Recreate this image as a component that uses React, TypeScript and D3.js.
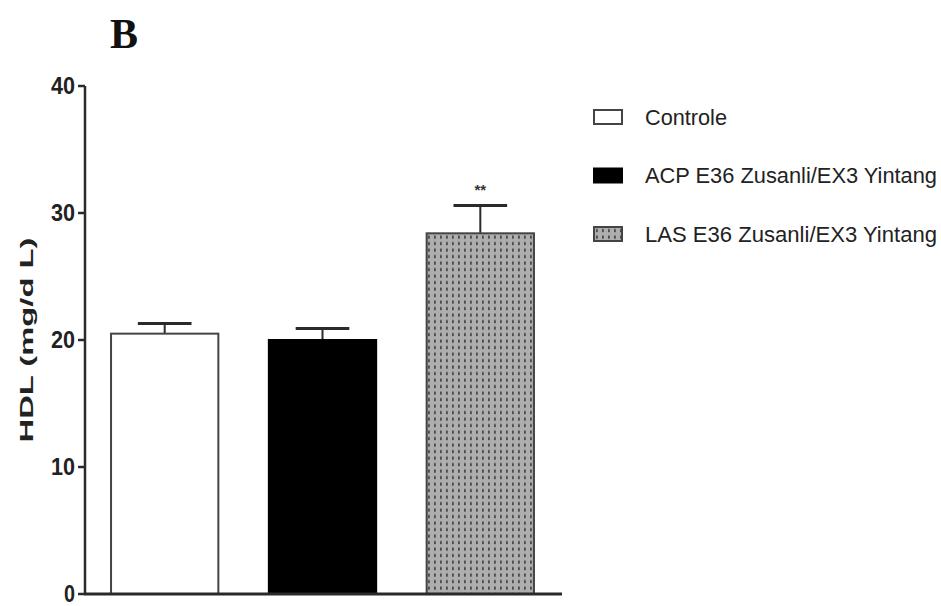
import { useMemo } from "react";
import * as d3 from "d3";

const groups = ["Controle", "ACP E36 Zusanli/EX3 Yintang", "LAS E36 Zusanli/EX3 Yintang"];
const means = [20.5, 20.0, 28.4];
const sems = [0.8, 0.9, 2.2];
const marks = ["", "", "**"];
const yTicks = [0, 10, 20, 30, 40];

const W = 941;
const H = 606;
const ink = "#2a2a2a";
// legend text squeezed to look like the narrow font of the original
const legendLen = [82, 292, 292];

export default function App() {
  const { x, y } = useMemo(() => {
    const x = d3.scaleBand<string>().domain(groups).range([85, 560]).paddingInner(0.32).paddingOuter(0.165);
    const y = d3.scaleLinear().domain([0, 40]).range([594, 86]);
    return { x, y };
  }, []);

  const fills = ["#ffffff", "#000000", "url(#dots)"];
  const bw = x.bandwidth();

  return (
    <svg width={W} height={H} style={{ position: "absolute", left: 0, top: 0, background: "#fff" }}>
      <defs>
        <pattern id="dots" width={6} height={6.5} patternUnits="userSpaceOnUse">
          <rect width={6} height={6.5} fill="#aeaeae" />
          <rect x={2} y={1.5} width={1.8} height={3.2} fill="#4a4a4a" />
        </pattern>
      </defs>

      <text x={110} y={48} fontFamily="Liberation Serif, serif" fontWeight="bold" fontSize={42} fill="#111">B</text>

      {/* y axis */}
      <line x1={85} x2={85} y1={y(40)} y2={y(0)} stroke={ink} strokeWidth={2.5} />
      {yTicks.map((t) => (
        <g key={t}>
          <line x1={78} x2={85} y1={y(t)} y2={y(t)} stroke={ink} strokeWidth={2.5} />
          <text x={75} y={y(t)} dy="0.34em" textAnchor="end" fontFamily="Liberation Sans, Arial" fontWeight="bold" fontSize={24}
            textLength={t === 0 ? 11 : 24} lengthAdjust="spacingAndGlyphs" fill="#222">{t}</text>
        </g>
      ))}
      <text transform={`translate(33,340) rotate(-90)`} textAnchor="middle" fontFamily="Liberation Sans, Arial" fontWeight="bold" fontSize={19}
        textLength={205} lengthAdjust="spacingAndGlyphs" fill="#222">HDL  (mg/d L)</text>

      {/* bars */}
      {groups.map((g, i) => {
        const x0 = x(g)!;
        const cx = x0 + bw / 2;
        const top = y(means[i]);
        const eTop = y(means[i] + sems[i]);
        return (
          <g key={g}>
            <line x1={cx} x2={cx} y1={top} y2={eTop} stroke={ink} strokeWidth={2} />
            <line x1={cx - bw / 4} x2={cx + bw / 4} y1={eTop} y2={eTop} stroke={ink} strokeWidth={3} />
            <rect x={x0} y={top} width={bw} height={y(0) - top} fill={fills[i]} stroke={i === 1 ? "#000" : "#444"} strokeWidth={2} />
            {marks[i] && (
              <text x={cx} y={eTop - 10} textAnchor="middle" fontFamily="Liberation Sans, Arial" fontWeight="bold" fontSize={15} fill="#333">{marks[i]}</text>
            )}
          </g>
        );
      })}

      {/* x axis */}
      <line x1={84} x2={562} y1={y(0)} y2={y(0)} stroke={ink} strokeWidth={3} />

      {/* legend */}
      {groups.map((g, i) => {
        const ly = 117 + i * 58.5;
        return (
          <g key={g}>
            <rect x={594} y={ly - 7} width={28} height={14} fill={fills[i]} stroke={i === 1 ? "#000" : "#444"} strokeWidth={2} />
            <text x={645} y={ly} dy="0.36em" fontFamily="Liberation Sans, Arial" fontSize={22} fill="#222"
              textLength={legendLen[i]} lengthAdjust="spacingAndGlyphs">{g}</text>
          </g>
        );
      })}
    </svg>
  );
}
